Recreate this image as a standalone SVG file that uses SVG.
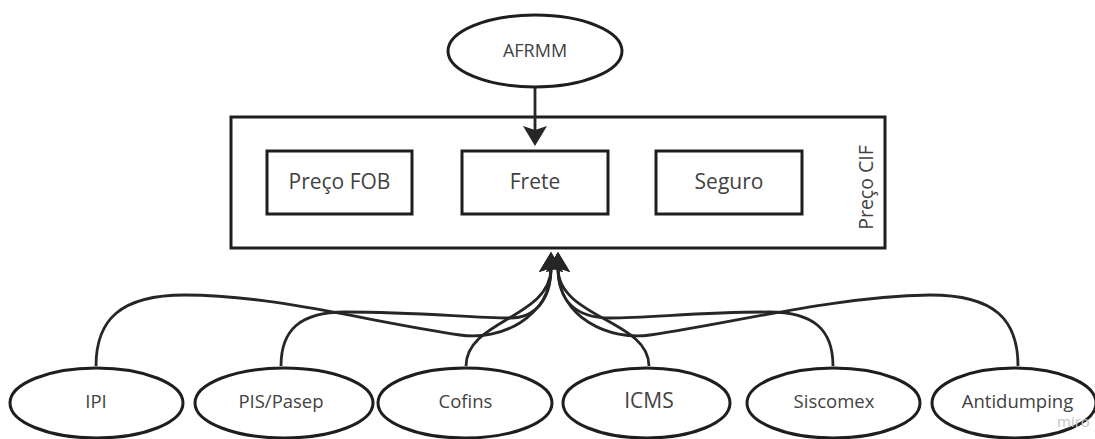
<svg xmlns="http://www.w3.org/2000/svg" width="1095" height="439" viewBox="0 0 1095 439">
  <style>
    .shape { fill: #ffffff; stroke: #1e1e1e; stroke-width: 3; }
    .edge { fill: none; stroke: #262626; stroke-width: 2.8; }
    .label { font-family: "Open Sans", "Liberation Sans", sans-serif; fill: #424242; text-anchor: middle; }
    .big { font-size: 21px; }
    .small { font-size: 18.5px; }
    .watermark { font-family: "Open Sans", "Liberation Sans", sans-serif; font-size: 15px; fill: #c4c4c4; }
  </style>
  <defs>
    <marker id="arrow" markerUnits="userSpaceOnUse" markerWidth="24" markerHeight="26" refX="4" refY="12" orient="auto">
      <path d="M0,0 L20,12 L0,24 L4,12 Z" fill="#262626"/>
    </marker>
  </defs>

  <!-- Preço CIF container with its three components -->
  <g id="preco-cif">
    <rect class="shape" x="231" y="117" width="654" height="131"/>
    <text class="label" font-size="19.5" transform="translate(873,187.5) rotate(-90)">Preço CIF</text>
  </g>
  <g id="preco-fob">
    <rect class="shape" x="267" y="151" width="145" height="63"/>
    <text class="label big" x="339.5" y="189">Preço FOB</text>
  </g>
  <g id="frete">
    <rect class="shape" x="462" y="151" width="146" height="63"/>
    <text class="label big" x="535" y="189">Frete</text>
  </g>
  <g id="seguro">
    <rect class="shape" x="656" y="151" width="146" height="63"/>
    <text class="label big" x="729" y="189">Seguro</text>
  </g>

  <!-- Top input -->
  <g id="afrmm">
    <ellipse class="shape" cx="535" cy="51" rx="87" ry="36"/>
    <text class="label" font-size="18" x="535" y="57">AFRMM</text>
  </g>

  <!-- Bottom inputs -->
  <g id="ipi">
    <ellipse class="shape" cx="96.5" cy="403" rx="86.5" ry="35"/>
    <text class="label small" x="96" y="408">IPI</text>
  </g>
  <g id="pis-pasep">
    <ellipse class="shape" cx="284" cy="403" rx="89" ry="35"/>
    <text class="label small" x="281" y="408">PIS/Pasep</text>
  </g>
  <g id="cofins">
    <ellipse class="shape" cx="465" cy="403" rx="87" ry="35"/>
    <text class="label small" x="465.5" y="408">Cofins</text>
  </g>
  <g id="icms">
    <ellipse class="shape" cx="646.5" cy="403" rx="83.5" ry="35"/>
    <text class="label big" x="649" y="408">ICMS</text>
  </g>
  <g id="siscomex">
    <ellipse class="shape" cx="833.5" cy="403" rx="86.5" ry="35"/>
    <text class="label small" x="834" y="408">Siscomex</text>
  </g>
  <g id="antidumping">
    <ellipse class="shape" cx="1014" cy="403" rx="82" ry="35"/>
    <text class="label small" x="1017.5" y="408">Antidumping</text>
  </g>

  <!-- Connectors -->
  <g id="connectors">
    <path class="edge" marker-end="url(#arrow)" d="M535,88 L535,130"/>
    <path class="edge" marker-end="url(#arrow)" d="M96,366 C96,320 120,295 185,295 C275,295 370,322 460,335 C500,341 551,318 551,268"/>
    <path class="edge" marker-end="url(#arrow)" d="M281,366 C281,330 300,312 345,312 C420,312 470,318 510,318 C535,318 551,300 551,268"/>
    <path class="edge" marker-end="url(#arrow)" d="M466,366 C466,320 551,318 551,268"/>
    <path class="edge" marker-end="url(#arrow)" d="M649,366 C649,320 558,318 558,268"/>
    <path class="edge" marker-end="url(#arrow)" d="M833,366 C833,330 814,312 769,312 C700,312 650,318 610,318 C575,318 558,300 558,268"/>
    <path class="edge" marker-end="url(#arrow)" d="M1018,366 C1018,320 995,295 930,295 C830,297 740,322 650,335 C610,341 558,318 558,268"/>
  </g>

  <text class="watermark" x="1057" y="427">miro</text>
</svg>
